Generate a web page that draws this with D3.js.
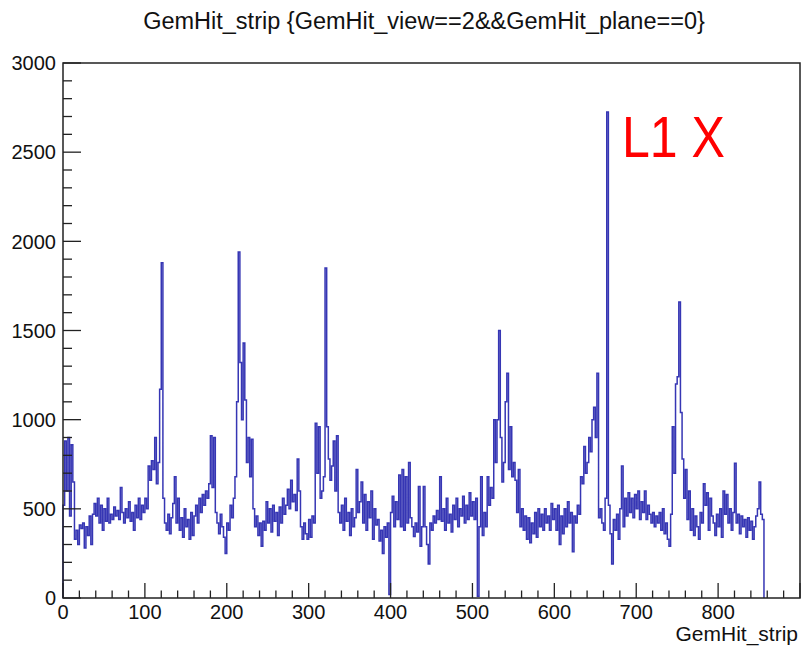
<!DOCTYPE html>
<html><head><meta charset="utf-8">
<script src="https://cdn.jsdelivr.net/npm/d3@7"></script>
<style>
html,body{margin:0;padding:0;background:#fff;}
svg{display:block;}
text{font-family:"Liberation Sans",Arial,Helvetica,sans-serif;}
</style></head>
<body>
<svg id="c" width="807" height="649"></svg>
<script>
const title = "GemHit_strip {GemHit_view==2&&GemHit_plane==0}";
const xTitle = "GemHit_strip";
const annotation = "L1 X";
const xDomain = [0, 900];
const yDomain = [0, 3000];
const xTicks = [0,100,200,300,400,500,600,700,800];
const yTicks = [0,500,1000,1500,2000,2500,3000];
const binWidth = 2;   // strips per bin
// counts per bin, starting at strip 0
const counts0 = [520,880,600,900,460,860,650,330,380,300,
 410,390,420,280,400,350,460,300,470,530,
 460,560,420,520,380,500,430,560,420,470,
 440,510,460,490,440,620,480,420,500,450,
 540,430,480,380,520,450,560,440,520,480,
 560,500,740,660,770,720,900,640,760,1170,
 1880,560,420,380,470,360,450,530,680,420,
 560,380,450,340,500,400,440,330,480,350,
 460,520,420,560,480,580,520,600,560,640,
 910,620,900,480,420,360,470,400,340,250];
const counts1 = [420,380,520,450,560,680,1100,1940,1320,1000,
 1430,1110,760,900,680,890,500,400,460,350,
 420,290,430,380,540,420,500,370,520,430,
 480,350,510,420,560,470,520,610,500,660,
 540,580,490,780,600,400,330,420,360,330,
 440,340,460,420,980,700,960,560,600,680,
 1850,960,780,660,740,880,600,910,480,420,
 520,380,560,430,480,350,500,400,450,720,
 480,540,650,420,580,380,540,450,600,330,
 500,410,440,320,380,250,400,340,420,20];
const counts2 = [480,570,400,540,440,690,400,720,380,680,
 420,760,450,400,345,420,370,625,290,400,
 625,400,300,190,420,380,460,420,490,440,
 680,430,500,380,560,420,470,370,520,440,
 560,400,500,460,570,420,520,440,590,460,
 540,440,560,10,400,680,350,480,400,680,
 520,620,560,1000,760,1000,1500,900,650,760,
 1100,1260,720,960,680,760,660,480,720,400,
 500,380,460,330,450,310,420,360,480,340,
 500,400,470,380,500,420,460,380,530,440];
const counts3 = [500,380,520,300,460,360,500,400,540,420,
 480,260,460,420,520,470,680,640,850,700,
 760,900,820,1000,1070,900,1260,450,500,420,
 380,560,2725,520,360,190,440,380,470,330,
 500,740,400,560,460,590,480,560,450,580,
 500,600,440,540,480,600,440,520,470,420,
 480,400,460,420,480,380,500,360,420,330,
 290,470,960,700,1200,1240,1660,1040,780,560,
 720,440,600,380,500,350,460,400,330,480,
 420,640,520,590,380,560,460,420,350,470];
const counts4 = [400,500,340,600,470,580,420,500,380,480,
 755,420,470,360,460,400,440,340,450,380,
 430,330,400,460,500,650,470,440];
const counts = [].concat(counts0, counts1, counts2, counts3, counts4);

const svg = d3.select("#c");
const W = 807, H = 649;
const m = {left:63, right:7, top:63, bottom:51};
const x = d3.scaleLinear().domain(xDomain).range([m.left, W - m.right]);
const y = d3.scaleLinear().domain(yDomain).range([H - m.bottom, m.top]);

// title
svg.append("text").attr("x", 424).attr("y", 29).attr("text-anchor","middle")
  .attr("font-size", 23.5).attr("fill","#111").text(title);

// histogram outline
const pts = [[0, 0]];
counts.forEach((c,i)=>{ pts.push([i*binWidth, c]); pts.push([(i+1)*binWidth, c]); });
pts.push([counts.length*binWidth, 0]);
const line = d3.line().x(d=>x(d[0])).y(d=>y(d[1]));
svg.append("path").attr("d", line(pts)).attr("fill","none")
  .attr("stroke","#3636b4").attr("stroke-width",1.5).attr("stroke-linejoin","miter");

// frame
svg.append("rect").attr("x", m.left).attr("y", m.top)
  .attr("width", W - m.right - m.left).attr("height", H - m.bottom - m.top)
  .attr("fill","none").attr("stroke","#222").attr("stroke-width",1.5);

// y ticks
const yMinor = d3.range(0, 3001, 100);
svg.append("g").selectAll("line").data(yMinor).join("line")
  .attr("x1", m.left).attr("x2", d => m.left + (d % 500 === 0 ? 18 : 9))
  .attr("y1", d=>y(d)).attr("y2", d=>y(d)).attr("stroke","#222").attr("stroke-width",1.3);
svg.append("g").selectAll("text").data(yTicks).join("text")
  .attr("x", m.left - 7).attr("y", d=>y(d)).attr("dy","0.36em")
  .attr("text-anchor","end").attr("font-size",20).attr("fill","#111").text(d=>d);

// x ticks
const xMinor = d3.range(0, 901, 20);
svg.append("g").selectAll("line").data(xMinor).join("line")
  .attr("x1", d=>x(d)).attr("x2", d=>x(d))
  .attr("y1", H - m.bottom).attr("y2", d => H - m.bottom - (d % 100 === 0 ? 15 : 7.5))
  .attr("stroke","#222").attr("stroke-width",1.3);
svg.append("g").selectAll("text").data(xTicks).join("text")
  .attr("x", d=>x(d)).attr("y", H - m.bottom + 21)
  .attr("text-anchor","middle").attr("font-size",20).attr("fill","#111").text(d=>d);

svg.append("text").attr("x", W - m.right - 2).attr("y", 641).attr("text-anchor","end")
  .attr("font-size",21).attr("fill","#111").text(xTitle);

// annotation
svg.append("text").attr("x", 622).attr("y", 157).attr("font-size",58)
  .attr("textLength",103).attr("lengthAdjust","spacingAndGlyphs")
  .attr("fill","#ff0000").text(annotation);
</script>
</body></html>
